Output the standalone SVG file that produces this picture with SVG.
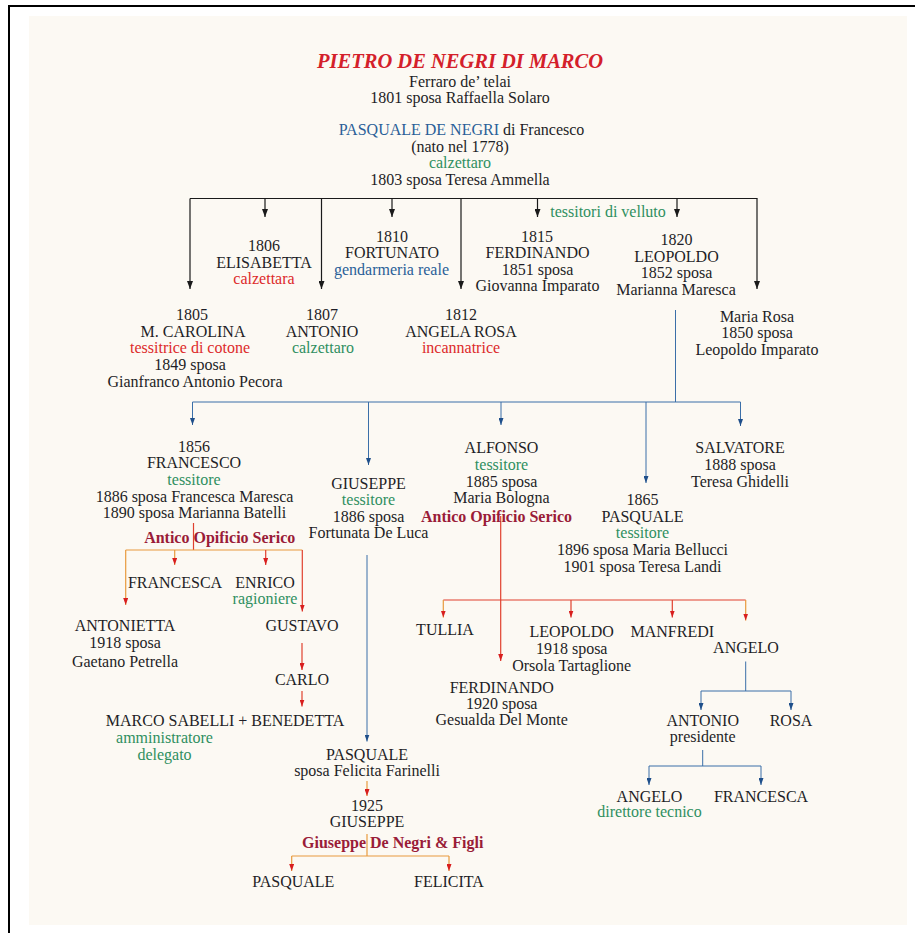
<svg xmlns="http://www.w3.org/2000/svg" width="915" height="933" viewBox="0 0 915 933">
  <defs>
    <style>
      text { font-family: "Liberation Serif", "Times New Roman", serif; font-size: 16px; fill: #1e1e26; text-anchor: middle; }
      .title { font-size: 20.5px; font-weight: bold; font-style: italic; fill: #d4202a; }
      .g { fill: #2f8f5f; }
      .r { fill: #dd2a2a; }
      .b { fill: #2a5f98; }
      .k { font-weight: bold; fill: #9a1c38; }
      .lk { stroke: #1a1a1a; stroke-width: 1.2; fill: none; }
      .lb { stroke: #3b6fa8; stroke-width: 1; fill: none; }
      .lo { stroke: #e89a3e; stroke-width: 1.2; fill: none; }
      .lr { stroke: #e0402e; stroke-width: 1.2; fill: none; }
    </style>
    <marker id="ak" viewBox="0 0 8 6" refX="8" refY="3" markerWidth="8" markerHeight="6" markerUnits="userSpaceOnUse" orient="auto">
      <path d="M0,0 L8,3 L0,6 Z" fill="#1a1a1a"/>
    </marker>
    <marker id="ab" viewBox="0 0 7 5" refX="7" refY="2.5" markerWidth="7" markerHeight="5" markerUnits="userSpaceOnUse" orient="auto">
      <path d="M0,0 L7,2.5 L0,5 Z" fill="#1f4f8a"/>
    </marker>
    <marker id="ar" viewBox="0 0 7 5" refX="7" refY="2.5" markerWidth="7" markerHeight="5" markerUnits="userSpaceOnUse" orient="auto">
      <path d="M0,0 L7,2.5 L0,5 Z" fill="#d81e1e"/>
    </marker>
  </defs>

  <!-- page and frame -->
  <rect x="0" y="0" width="915" height="933" fill="#ffffff"/>
  <rect x="29" y="16" width="878" height="909" fill="#fcf9f3"/>
  <path d="M9,933 V6 H915" fill="none" stroke="#000" stroke-width="2"/>

  <!-- connectors -->
  <g id="connectors">
    <!-- children of Pasquale (1778) -->
    <path class="lk" d="M190,198.5 H757.5"/>
    <line class="lk" x1="190" y1="198.5" x2="190" y2="289" marker-end="url(#ak)"/>
    <line class="lk" x1="265" y1="198.5" x2="265" y2="217" marker-end="url(#ak)"/>
    <line class="lk" x1="321.5" y1="198.5" x2="321.5" y2="289" marker-end="url(#ak)"/>
    <line class="lk" x1="392" y1="198.5" x2="392" y2="217" marker-end="url(#ak)"/>
    <line class="lk" x1="461" y1="198.5" x2="461" y2="289" marker-end="url(#ak)"/>
    <line class="lk" x1="537.5" y1="198.5" x2="537.5" y2="217" marker-end="url(#ak)"/>
    <line class="lk" x1="677" y1="198.5" x2="677" y2="217" marker-end="url(#ak)"/>
    <line class="lk" x1="757" y1="198.5" x2="757" y2="289" marker-end="url(#ak)"/>

    <!-- children of Leopoldo (1820) -->
    <line class="lb" x1="675.5" y1="310" x2="675.5" y2="402"/>
    <path class="lb" d="M192.5,402 H740.5"/>
    <line class="lb" x1="192.5" y1="402" x2="192.5" y2="425" marker-end="url(#ab)"/>
    <line class="lb" x1="368.5" y1="402" x2="368.5" y2="465" marker-end="url(#ab)"/>
    <line class="lb" x1="501" y1="402" x2="501" y2="425" marker-end="url(#ab)"/>
    <line class="lb" x1="646" y1="402" x2="646" y2="483" marker-end="url(#ab)"/>
    <line class="lb" x1="740.5" y1="402" x2="740.5" y2="426" marker-end="url(#ab)"/>

    <!-- children of Francesco (1856) -->
    <line class="lr" x1="193.5" y1="523" x2="193.5" y2="550"/>
    <path class="lo" d="M125.7,550 H302.3"/>
    <line class="lo" x1="125.7" y1="550" x2="125.7" y2="605" marker-end="url(#ar)"/>
    <line class="lo" x1="174.7" y1="550" x2="174.7" y2="565" marker-end="url(#ar)"/>
    <line class="lr" x1="265.7" y1="550" x2="265.7" y2="565" marker-end="url(#ar)"/>
    <line class="lr" x1="302.3" y1="550" x2="302.3" y2="611.5" marker-end="url(#ar)"/>
    <line class="lr" x1="302" y1="643" x2="302" y2="670" marker-end="url(#ar)"/>
    <line class="lr" x1="302" y1="691" x2="302" y2="706.5" marker-end="url(#ar)"/>

    <!-- line of Giuseppe -->
    <line class="lb" x1="367" y1="555" x2="367" y2="741.5" marker-end="url(#ab)"/>
    <line class="lo" x1="367" y1="781" x2="367" y2="796" marker-end="url(#ar)"/>
    <line class="lo" x1="367" y1="834" x2="367" y2="856"/>
    <path class="lo" d="M291.7,856 H449"/>
    <line class="lo" x1="291.7" y1="856" x2="291.7" y2="871" marker-end="url(#ar)"/>
    <line class="lo" x1="449" y1="856" x2="449" y2="871" marker-end="url(#ar)"/>

    <!-- children of Alfonso -->
    <line class="lr" x1="500.7" y1="516" x2="500.7" y2="661" marker-end="url(#ar)"/>
    <path class="lr" d="M443.3,600 H745.7"/>
    <line class="lo" x1="443.3" y1="600" x2="443.3" y2="617.5" marker-end="url(#ar)"/>
    <line class="lr" x1="571" y1="600" x2="571" y2="617.5" marker-end="url(#ar)"/>
    <line class="lr" x1="672.3" y1="600" x2="672.3" y2="617.5" marker-end="url(#ar)"/>
    <line class="lo" x1="745.7" y1="600" x2="745.7" y2="620.5" marker-end="url(#ar)"/>

    <!-- children of Angelo -->
    <line class="lb" x1="745.7" y1="661.5" x2="745.7" y2="691"/>
    <path class="lb" d="M701,691 H791"/>
    <line class="lb" x1="701" y1="691" x2="701" y2="710" marker-end="url(#ab)"/>
    <line class="lb" x1="791" y1="691" x2="791" y2="710" marker-end="url(#ab)"/>

    <!-- children of Antonio -->
    <line class="lb" x1="702.7" y1="750" x2="702.7" y2="766"/>
    <path class="lb" d="M649,766 H761"/>
    <line class="lb" x1="649" y1="766" x2="649" y2="785" marker-end="url(#ab)"/>
    <line class="lb" x1="761" y1="766" x2="761" y2="785" marker-end="url(#ab)"/>
  </g>

  <!-- founders -->
  <g id="pietro">
    <text class="title" x="460" y="68">PIETRO DE NEGRI DI MARCO</text>
    <text x="460" y="86.5">Ferraro de’ telai</text>
    <text x="460" y="103">1801 sposa Raffaella Solaro</text>
  </g>
  <g id="pasquale-1778">
    <text x="461.5" y="134.5"><tspan class="b">PASQUALE DE NEGRI</tspan> di Francesco</text>
    <text x="460" y="151.5">(nato nel 1778)</text>
    <text class="g" x="460" y="168">calzettaro</text>
    <text x="460" y="185">1803 sposa Teresa Ammella</text>
  </g>

  <!-- first generation -->
  <g id="carolina">
    <text x="192" y="320">1805</text>
    <text x="193" y="336.7">M. CAROLINA</text>
    <text class="r" x="190" y="353.3">tessitrice di cotone</text>
    <text x="190" y="370">1849 sposa</text>
    <text x="195" y="386.7">Gianfranco Antonio Pecora</text>
  </g>
  <g id="elisabetta">
    <text x="264" y="251">1806</text>
    <text x="264" y="267.5">ELISABETTA</text>
    <text class="r" x="264" y="284">calzettara</text>
  </g>
  <g id="antonio-1807">
    <text x="322" y="320">1807</text>
    <text x="322" y="336.7">ANTONIO</text>
    <text class="g" x="323" y="353.3">calzettaro</text>
  </g>
  <g id="fortunato">
    <text x="392" y="241.7">1810</text>
    <text x="392" y="258.3">FORTUNATO</text>
    <text class="b" x="391.5" y="274.5">gendarmeria reale</text>
  </g>
  <g id="angela-rosa">
    <text x="461" y="320">1812</text>
    <text x="461" y="336.7">ANGELA ROSA</text>
    <text class="r" x="461" y="353.3">incannatrice</text>
  </g>
  <g id="ferdinando-1815">
    <text x="537" y="241.7">1815</text>
    <text x="537.5" y="258.3">FERDINANDO</text>
    <text x="537.5" y="274.5">1851 sposa</text>
    <text x="537.5" y="291">Giovanna Imparato</text>
  </g>
  <g id="velluto">
    <text class="g" x="608" y="216.7">tessitori di velluto</text>
  </g>
  <g id="leopoldo-1820">
    <text x="676.5" y="245">1820</text>
    <text x="676.5" y="261.7">LEOPOLDO</text>
    <text x="676.5" y="278">1852 sposa</text>
    <text x="676" y="294.5">Marianna Maresca</text>
  </g>
  <g id="maria-rosa">
    <text x="757" y="321.7">Maria Rosa</text>
    <text x="757" y="338.3">1850 sposa</text>
    <text x="757" y="355">Leopoldo Imparato</text>
  </g>

  <!-- second generation -->
  <g id="francesco-1856">
    <text x="194" y="451.7">1856</text>
    <text x="194" y="468.3">FRANCESCO</text>
    <text class="g" x="194" y="485">tessitore</text>
    <text x="194.5" y="501.7">1886 sposa Francesca Maresca</text>
    <text x="194.5" y="518.3">1890 sposa Marianna Batelli</text>
    <text class="k" x="219.7" y="543.3">Antico Opificio Serico</text>
  </g>
  <g id="giuseppe-1886">
    <text x="368.5" y="489">GIUSEPPE</text>
    <text class="g" x="368.5" y="505.3">tessitore</text>
    <text x="368.5" y="521.5">1886 sposa</text>
    <text x="368.5" y="538.3">Fortunata De Luca</text>
  </g>
  <g id="alfonso">
    <text x="501.5" y="453.3">ALFONSO</text>
    <text class="g" x="501.5" y="470">tessitore</text>
    <text x="501.5" y="486.7">1885 sposa</text>
    <text x="501.5" y="502.7">Maria Bologna</text>
    <text class="k" x="496.5" y="521.7">Antico Opificio Serico</text>
  </g>
  <g id="pasquale-1865">
    <text x="642.5" y="505">1865</text>
    <text x="642.5" y="521.7">PASQUALE</text>
    <text class="g" x="642.5" y="538.3">tessitore</text>
    <text x="642.5" y="555">1896 sposa Maria Bellucci</text>
    <text x="642.5" y="571.7">1901 sposa Teresa Landi</text>
  </g>
  <g id="salvatore">
    <text x="740" y="453.3">SALVATORE</text>
    <text x="740" y="470">1888 sposa</text>
    <text x="740" y="486.7">Teresa Ghidelli</text>
  </g>

  <!-- descendants of Francesco -->
  <g id="francesca-1">
    <text x="175" y="588.3">FRANCESCA</text>
  </g>
  <g id="enrico">
    <text x="265" y="588.3">ENRICO</text>
    <text class="g" x="265" y="604">ragioniere</text>
  </g>
  <g id="antonietta">
    <text x="125" y="630.7">ANTONIETTA</text>
    <text x="125" y="648.3">1918 sposa</text>
    <text x="125" y="666.7">Gaetano Petrella</text>
  </g>
  <g id="gustavo">
    <text x="302" y="630.7">GUSTAVO</text>
  </g>
  <g id="carlo">
    <text x="302" y="685">CARLO</text>
  </g>
  <g id="marco-benedetta">
    <text x="225" y="726">MARCO SABELLI + BENEDETTA</text>
    <text class="g" x="164.5" y="743.3">amministratore</text>
    <text class="g" x="164.5" y="760">delegato</text>
  </g>

  <!-- descendants of Giuseppe -->
  <g id="pasquale-farinelli">
    <text x="367" y="760">PASQUALE</text>
    <text x="367" y="776">sposa Felicita Farinelli</text>
  </g>
  <g id="giuseppe-1925">
    <text x="367" y="810.7">1925</text>
    <text x="367" y="827.3">GIUSEPPE</text>
    <text class="k" x="392.7" y="848.3">Giuseppe De Negri &amp; Figli</text>
  </g>
  <g id="pasquale-jr">
    <text x="293.3" y="886.7">PASQUALE</text>
  </g>
  <g id="felicita">
    <text x="449" y="886.7">FELICITA</text>
  </g>

  <!-- descendants of Alfonso -->
  <g id="tullia">
    <text x="445" y="635">TULLIA</text>
  </g>
  <g id="leopoldo-1918">
    <text x="571.7" y="636.7">LEOPOLDO</text>
    <text x="571.7" y="654">1918 sposa</text>
    <text x="571.7" y="670.7">Orsola Tartaglione</text>
  </g>
  <g id="manfredi">
    <text x="672.3" y="636.7">MANFREDI</text>
  </g>
  <g id="angelo">
    <text x="746" y="652.7">ANGELO</text>
  </g>
  <g id="ferdinando-1920">
    <text x="501.7" y="692.7">FERDINANDO</text>
    <text x="501.7" y="709.3">1920 sposa</text>
    <text x="501.7" y="725">Gesualda Del Monte</text>
  </g>
  <g id="antonio-presidente">
    <text x="702.7" y="726">ANTONIO</text>
    <text x="702.7" y="741.7">presidente</text>
  </g>
  <g id="rosa">
    <text x="791" y="726">ROSA</text>
  </g>
  <g id="angelo-direttore">
    <text x="649.5" y="801.7">ANGELO</text>
    <text class="g" x="649.5" y="817.3">direttore tecnico</text>
  </g>
  <g id="francesca-2">
    <text x="761" y="801.7">FRANCESCA</text>
  </g>
</svg>
